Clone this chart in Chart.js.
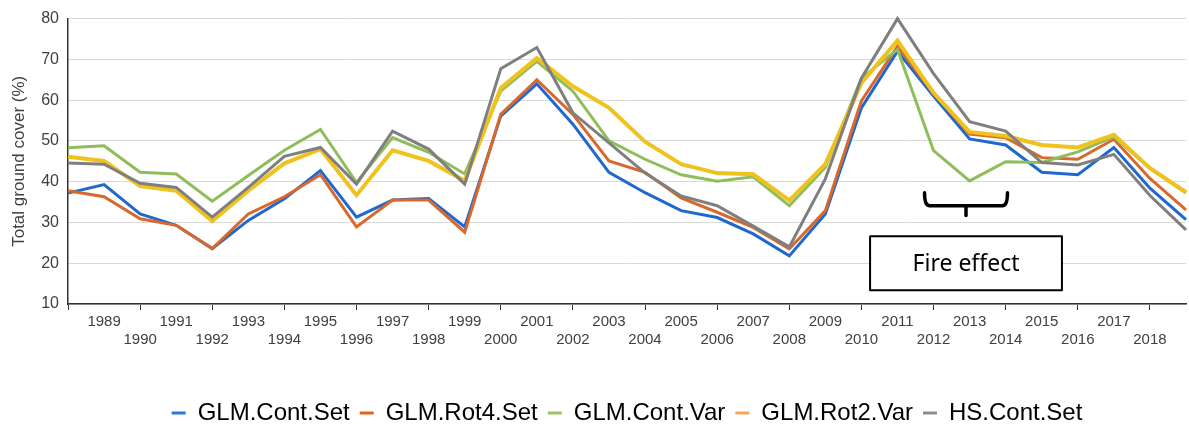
<!DOCTYPE html>
<html>
<head>
<meta charset="utf-8">
<script src="https://cdn.jsdelivr.net/npm/chart.js@4/dist/chart.umd.min.js"></script>
<style>
  html, body { margin: 0; padding: 0; background: #fff; }
  #wrap { width: 1189px; height: 428px; position: relative; }
</style>
</head>
<body>
<div id="wrap"><canvas id="coverChart"></canvas></div>
<script>
// years 1988..2019 (first and last have no label)
const years = [];
for (let y = 1988; y <= 2019; y++) years.push(y);

const glmContSet = [37.2, 39.3, 32.1, 29.3, 23.6, 30.5, 35.8, 42.7, 31.3, 35.5, 35.9, 28.9,
    56.1, 64.0, 54.1, 42.3, 37.3, 32.9, 31.2, 27.2, 21.8, 32.1, 58.1, 72.0,
    61.0, 50.5, 49.0, 42.3, 41.7, 48.4, 38.4, 30.7];
const glmRot4Set = [37.8, 36.3, 30.9, 29.3, 23.6, 32.1, 36.3, 41.7, 28.9, 35.5, 35.5, 27.6,
    56.5, 65.0, 56.5, 45.1, 42.3, 36.0, 32.5, 28.8, 23.5, 32.9, 59.8, 73.2,
    61.6, 51.7, 50.8, 45.9, 45.5, 50.4, 40.8, 33.1];
const glmContVar = [48.3, 48.8, 42.3, 41.9, 35.2, 41.5, 47.7, 52.8, 39.8, 50.8, 47.2, 41.9,
    62.2, 69.5, 62.2, 50.0, 45.5, 41.7, 40.1, 41.2, 34.1, 43.5, 65.4, 72.4,
    47.6, 40.2, 44.9, 44.7, 47.3, 51.0, 43.3, 37.2];
const glmRot2Var = [46.1, 45.1, 38.9, 37.8, 30.3, 37.8, 44.5, 48.0, 36.7, 47.7, 45.1, 40.2,
    63.0, 70.3, 63.4, 58.1, 49.8, 44.3, 42.1, 41.8, 35.4, 44.3, 64.2, 74.6,
    61.8, 52.2, 51.2, 49.0, 48.4, 51.5, 43.3, 37.4];
const hsContSet = [44.6, 44.3, 39.6, 38.6, 31.3, 38.6, 46.2, 48.4, 39.4, 52.4, 48.0, 39.4,
    67.7, 72.9, 56.9, 49.5, 42.1, 36.5, 34.1, 29.1, 24.0, 40.7, 65.4, 80.0,
    66.5, 54.7, 52.4, 44.7, 44.1, 46.7, 36.6, 28.2];

const seriesNames = ['GLM.Cont.Set', 'GLM.Rot4.Set', 'GLM.Cont.Var', 'GLM.Rot2.Var', 'HS.Cont.Set'];
const lineColors = ['#1f68cf', '#d8682c', '#8fbd5b', '#f0c21e', '#7f7f7f'];
const legendColors = ['#2b74d8', '#e8621c', '#9cc464', '#f6a45c', '#8c8c8c'];
const yTicks = [10, 20, 30, 40, 50, 60, 70, 80];

// annotation placed in data units (category index, %)
const bracket = { from: 23.75, to: 26.05, mid: 24.9, y: 34.1, yEnd: 37.3, yStub: 31.7 };
const fireBox = { from: 22.24, to: 27.56, top: 26.6, bottom: 13.4, label: 'Fire effect' };

const fireEffect = {
    id: 'fireEffect',
    afterLayout(chart) {
        // legend in the original sits a bit right of centre
        chart.legend.left += 33;
        chart.legend.right += 33;
    },
    afterDatasetsDraw(chart) {
        const { ctx, scales: { x, y } } = chart;
        ctx.save();
        ctx.strokeStyle = '#000';
        ctx.lineCap = 'round';
        ctx.lineJoin = 'round';
        ctx.lineWidth = 3.5;
        const xl = x.getPixelForValue(bracket.from), xr = x.getPixelForValue(bracket.to);
        const xm = x.getPixelForValue(bracket.mid);
        const yb = y.getPixelForValue(bracket.y), ye = y.getPixelForValue(bracket.yEnd);
        ctx.beginPath();
        ctx.moveTo(xl, ye);
        ctx.quadraticCurveTo(xl, yb, xl + 5, yb);
        ctx.lineTo(xr - 5, yb);
        ctx.quadraticCurveTo(xr, yb, xr, ye);
        ctx.stroke();
        ctx.beginPath();
        ctx.moveTo(xm, yb);
        ctx.lineTo(xm, y.getPixelForValue(bracket.yStub));
        ctx.stroke();

        const bl = x.getPixelForValue(fireBox.from), br = x.getPixelForValue(fireBox.to);
        const bt = y.getPixelForValue(fireBox.top), bb = y.getPixelForValue(fireBox.bottom);
        ctx.fillStyle = '#fff';
        ctx.fillRect(bl, bt, br - bl, bb - bt);
        ctx.lineWidth = 2;
        ctx.strokeRect(bl, bt, br - bl, bb - bt);
        ctx.fillStyle = '#000';
        ctx.font = '23px "Noto Sans", "Open Sans", sans-serif';
        ctx.textAlign = 'center';
        ctx.textBaseline = 'middle';
        ctx.fillText(fireBox.label, (bl + br) / 2, (bt + bb) / 2 + 1);
        ctx.restore();
    }
};

const allSeries = [glmContSet, glmRot4Set, glmContVar, glmRot2Var, hsContSet];
const datasets = allSeries.map((vals, i) => ({
    label: seriesNames[i],
    data: vals,
    borderColor: lineColors[i],
    backgroundColor: lineColors[i],
    borderWidth: i === 3 ? 4 : 3,
    pointRadius: 0,
    tension: 0,
    clip: false,
    order: 5 - i
}));

const ctx = document.getElementById('coverChart').getContext('2d');
const myChart = new Chart(ctx, {
    type: 'line',
    data: { labels: years, datasets },
    plugins: [fireEffect],
    options: {
        responsive: true,
        maintainAspectRatio: false,
        animation: false,
        layout: { padding: { top: 17, right: 1, left: 0, bottom: 0 } },
        plugins: {
            tooltip: { enabled: false },
            legend: {
                position: 'bottom',
                maxHeight: 37,
                labels: {
                    boxWidth: 14,
                    boxHeight: 3,
                    padding: 10,
                    color: '#000',
                    font: { family: '"Liberation Sans", Arial, sans-serif', size: 24 },
                    generateLabels: chart => chart.data.datasets.map((ds, i) => ({
                        text: ds.label,
                        fillStyle: legendColors[i],
                        strokeStyle: legendColors[i],
                        lineWidth: 0,
                        hidden: false,
                        datasetIndex: i,
                        fontColor: '#000'
                    }))
                }
            }
        },
        scales: {
            x: {
                afterFit: scale => { scale.height = 87; },
                border: { display: true, color: '#333', width: 1.5 },
                grid: {
                    drawOnChartArea: false,
                    drawTicks: true,
                    tickLength: 6,
                    color: c => (c.index % 2 === 0 ? '#333' : 'rgba(0,0,0,0)')
                },
                ticks: {
                    autoSkip: false,
                    maxRotation: 0,
                    padding: 3,
                    color: '#404040',
                    font: { family: '"Liberation Sans", Arial, sans-serif', size: 15 },
                    callback: function (val, i) {
                        const yr = years[i];
                        if (i === 0 || i === years.length - 1) return '';
                        return yr % 2 === 1 ? [String(yr), ''] : ['', String(yr)];
                    }
                }
            },
            y: {
                min: 10,
                max: 80,
                afterFit: scale => { scale.width = 68; },
                afterBuildTicks: scale => { scale.ticks = yTicks.map(v => ({ value: v })); },
                border: { display: true, color: '#333', width: 1.5 },
                grid: { color: '#d9d9d9', lineWidth: 1, drawTicks: false },
                ticks: {
                    padding: 9,
                    color: '#404040',
                    font: { family: '"Liberation Sans", Arial, sans-serif', size: 16 }
                },
                title: {
                    display: true,
                    text: 'Total ground cover (%)',
                    color: '#404040',
                    padding: { top: 9, bottom: 0 },
                    font: { family: '"Liberation Sans", Arial, sans-serif', size: 17 }
                }
            }
        }
    }
});
</script>
</body>
</html>
